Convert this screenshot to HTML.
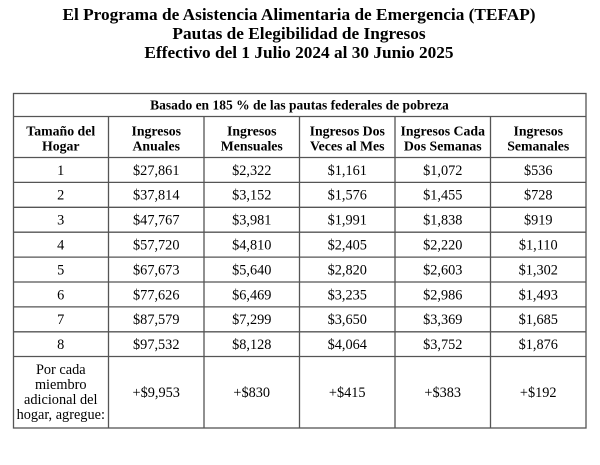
<!DOCTYPE html>
<html>
<head>
<meta charset="utf-8">
<style>
html,body{margin:0;padding:0;background:#fff;}
body{width:600px;height:465px;overflow:hidden;}
svg{display:block;}
text{font-family:"Liberation Serif","Times New Roman",serif;fill:#000;}
.t{font-size:17.3px;font-weight:bold;}
.h{font-size:13.8px;font-weight:bold;}
.b{font-size:13.5px;font-weight:bold;}
.d{font-size:14.3px;}
</style>
</head>
<body>
<svg width="600" height="465" viewBox="0 0 600 465" xmlns="http://www.w3.org/2000/svg">
<rect width="600" height="465" fill="#fff"/>
<g text-anchor="middle">
<text class="t" x="299" y="20">El Programa de Asistencia Alimentaria de Emergencia (TEFAP)</text>
<text class="t" x="299" y="39">Pautas de Elegibilidad de Ingresos</text>
<text class="t" x="299" y="58">Effectivo del 1 Julio 2024 al 30 Junio 2025</text>
</g>
<g stroke="#555" stroke-width="1.3" fill="none">
<rect x="13.5" y="93.5" width="572.5" height="334.5"/>
<line x1="13.5" y1="116.5" x2="586" y2="116.5"/>
<line x1="13.5" y1="157.5" x2="586" y2="157.5"/>
<line x1="13.5" y1="182.4" x2="586" y2="182.4"/>
<line x1="13.5" y1="207.3" x2="586" y2="207.3"/>
<line x1="13.5" y1="232.2" x2="586" y2="232.2"/>
<line x1="13.5" y1="257.1" x2="586" y2="257.1"/>
<line x1="13.5" y1="282" x2="586" y2="282"/>
<line x1="13.5" y1="306.9" x2="586" y2="306.9"/>
<line x1="13.5" y1="331.8" x2="586" y2="331.8"/>
<line x1="13.5" y1="356.5" x2="586" y2="356.5"/>
<line x1="108.5" y1="116.5" x2="108.5" y2="428"/>
<line x1="204" y1="116.5" x2="204" y2="428"/>
<line x1="299.5" y1="116.5" x2="299.5" y2="428"/>
<line x1="395" y1="116.5" x2="395" y2="428"/>
<line x1="490.5" y1="116.5" x2="490.5" y2="428"/>
</g>
<g text-anchor="middle">
<text class="b" x="299.5" y="109.5">Basado en 185 % de las pautas federales de pobreza</text>

<text class="h" x="60.75" y="135.5">Tamaño del</text>
<text class="h" x="60.75" y="150.5">Hogar</text>
<text class="h" x="156.25" y="135.5">Ingresos</text>
<text class="h" x="156.25" y="150.5">Anuales</text>
<text class="h" x="251.75" y="135.5">Ingresos</text>
<text class="h" x="251.75" y="150.5">Mensuales</text>
<text class="h" x="347.25" y="135.5">Ingresos Dos</text>
<text class="h" x="347.25" y="150.5">Veces al Mes</text>
<text class="h" x="442.75" y="135.5">Ingresos Cada</text>
<text class="h" x="442.75" y="150.5">Dos Semanas</text>
<text class="h" x="538.25" y="135.5">Ingresos</text>
<text class="h" x="538.25" y="150.5">Semanales</text>

<text class="d" x="60.75" y="174.8">1</text>
<text class="d" x="156.25" y="174.8">$27,861</text>
<text class="d" x="251.75" y="174.8">$2,322</text>
<text class="d" x="347.25" y="174.8">$1,161</text>
<text class="d" x="442.75" y="174.8">$1,072</text>
<text class="d" x="538.25" y="174.8">$536</text>

<text class="d" x="60.75" y="199.7">2</text>
<text class="d" x="156.25" y="199.7">$37,814</text>
<text class="d" x="251.75" y="199.7">$3,152</text>
<text class="d" x="347.25" y="199.7">$1,576</text>
<text class="d" x="442.75" y="199.7">$1,455</text>
<text class="d" x="538.25" y="199.7">$728</text>

<text class="d" x="60.75" y="224.6">3</text>
<text class="d" x="156.25" y="224.6">$47,767</text>
<text class="d" x="251.75" y="224.6">$3,981</text>
<text class="d" x="347.25" y="224.6">$1,991</text>
<text class="d" x="442.75" y="224.6">$1,838</text>
<text class="d" x="538.25" y="224.6">$919</text>

<text class="d" x="60.75" y="249.5">4</text>
<text class="d" x="156.25" y="249.5">$57,720</text>
<text class="d" x="251.75" y="249.5">$4,810</text>
<text class="d" x="347.25" y="249.5">$2,405</text>
<text class="d" x="442.75" y="249.5">$2,220</text>
<text class="d" x="538.25" y="249.5">$1,110</text>

<text class="d" x="60.75" y="274.4">5</text>
<text class="d" x="156.25" y="274.4">$67,673</text>
<text class="d" x="251.75" y="274.4">$5,640</text>
<text class="d" x="347.25" y="274.4">$2,820</text>
<text class="d" x="442.75" y="274.4">$2,603</text>
<text class="d" x="538.25" y="274.4">$1,302</text>

<text class="d" x="60.75" y="299.3">6</text>
<text class="d" x="156.25" y="299.3">$77,626</text>
<text class="d" x="251.75" y="299.3">$6,469</text>
<text class="d" x="347.25" y="299.3">$3,235</text>
<text class="d" x="442.75" y="299.3">$2,986</text>
<text class="d" x="538.25" y="299.3">$1,493</text>

<text class="d" x="60.75" y="324.2">7</text>
<text class="d" x="156.25" y="324.2">$87,579</text>
<text class="d" x="251.75" y="324.2">$7,299</text>
<text class="d" x="347.25" y="324.2">$3,650</text>
<text class="d" x="442.75" y="324.2">$3,369</text>
<text class="d" x="538.25" y="324.2">$1,685</text>

<text class="d" x="60.75" y="349.1">8</text>
<text class="d" x="156.25" y="349.1">$97,532</text>
<text class="d" x="251.75" y="349.1">$8,128</text>
<text class="d" x="347.25" y="349.1">$4,064</text>
<text class="d" x="442.75" y="349.1">$3,752</text>
<text class="d" x="538.25" y="349.1">$1,876</text>

<text class="d" x="60.75" y="374">Por cada</text>
<text class="d" x="60.75" y="389">miembro</text>
<text class="d" x="60.75" y="404">adicional del</text>
<text class="d" x="60.75" y="419">hogar, agregue:</text>
<text class="d" x="156.25" y="396.9">+$9,953</text>
<text class="d" x="251.75" y="396.9">+$830</text>
<text class="d" x="347.25" y="396.9">+$415</text>
<text class="d" x="442.75" y="396.9">+$383</text>
<text class="d" x="538.25" y="396.9">+$192</text>
</g>
</svg>
</body>
</html>
